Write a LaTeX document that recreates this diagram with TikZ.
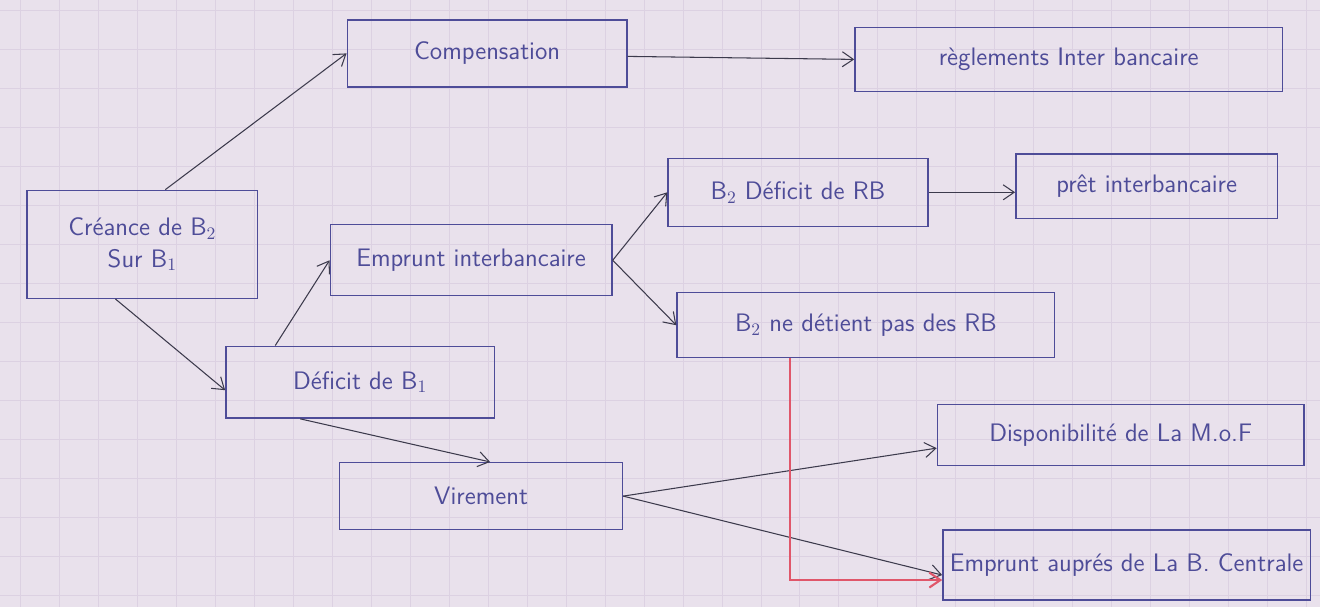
\documentclass[tikz,border=0pt]{standalone}
\usepackage{tikz}
\usetikzlibrary{arrows.meta,calc}
\definecolor{paper}{HTML}{E9E1EC}
\definecolor{gridline}{HTML}{DCD1E2}
\definecolor{ink}{HTML}{4E4C98}
\definecolor{pencil}{HTML}{3C3A4C}
\definecolor{redink}{HTML}{E0566A}
\tikzset{
  box/.style={draw=ink, line width=0.8pt, text=ink, align=center,
              font=\sffamily\Large, inner sep=4pt},
  flow/.style={-{Straight Barb[length=2.2mm,width=3mm]}, draw=pencil, line width=0.6pt},
  redflow/.style={-{Straight Barb[length=2.2mm,width=3mm]}, draw=redink, line width=1.2pt}
}

\begin{document}
\begin{tikzpicture}[x=0.02cm, y=-0.02cm]
  % paper and its grid
  \fill[paper] (0,0) rectangle (1320,607);
  \foreach \gx in {20,59,...,1320} \draw[gridline, line width=0.5pt] (\gx,0) -- (\gx,607);
  \foreach \gy in {10,49,...,607} \draw[gridline, line width=0.5pt] (0,\gy) -- (1320,\gy);
  \useasboundingbox (0,0) rectangle (1320,607);
  % boxes
  \node[box, minimum width=4.62cm, minimum height=2.16cm] (cre) at (142,244) {Créance de B$_2$\\ Sur B$_1$};
  \node[box, minimum width=5.6cm, minimum height=1.34cm] (comp) at (487,53) {Compensation};
  \node[box, minimum width=8.56cm, minimum height=1.28cm] (reg) at (1069,59) {règlements Inter bancaire};
  \node[box, minimum width=5.64cm, minimum height=1.42cm] (emp) at (471,260) {Emprunt interbancaire};
  \node[box, minimum width=5.2cm, minimum height=1.36cm] (b2d) at (798,192) {B$_2$ Déficit de RB};
  \node[box, minimum width=5.24cm, minimum height=1.3cm] (pret) at (1147,186) {prêt interbancaire};
  \node[box, minimum width=7.56cm, minimum height=1.3cm] (b2n) at (866,325) {B$_2$ ne détient pas des RB};
  \node[box, minimum width=5.38cm, minimum height=1.44cm] (def) at (360,382) {Déficit de B$_1$};
  \node[box, minimum width=5.66cm, minimum height=1.34cm] (vir) at (481,496) {Virement};
  \node[box, minimum width=7.34cm, minimum height=1.22cm] (dis) at (1121,435) {Disponibilité de La M.o.F};
  \node[box, minimum width=7.3cm, minimum height=1.4cm] (eab) at (1127,565) {Emprunt auprés de La B. Centrale};
  % arrows
  \draw[flow] ($(cre.north)+(23,0)$) -- (comp.west);
  \draw[flow] ($(cre.south)+(-27,0)$) -- ($(def.west)+(0,8)$);
  \draw[flow] ($(def.north)+(-85,0)$) -- (emp.west);
  \draw[flow] (emp.east) -- (b2d.west);
  \draw[flow] (emp.east) -- (b2n.west);
  \draw[flow] ($(def.south)+(-60,0)$) -- ($(vir.north)+(9,0)$);
  \draw[flow] (vir.east) -- ($(dis.west)+(0,13)$);
  \draw[flow] (vir.east) -- ($(eab.west)+(0,10)$);
  \draw[flow] ($(comp.east)+(0,3)$) -- (reg.west);
  \draw[flow] (b2d.east) -- ($(pret.west)+(0,6)$);
  % red path down to the central bank
  \draw[redflow] ($(b2n.south)+(-76,0)$) |- ($(eab.west)+(0,15)$);
\end{tikzpicture}
\end{document}
